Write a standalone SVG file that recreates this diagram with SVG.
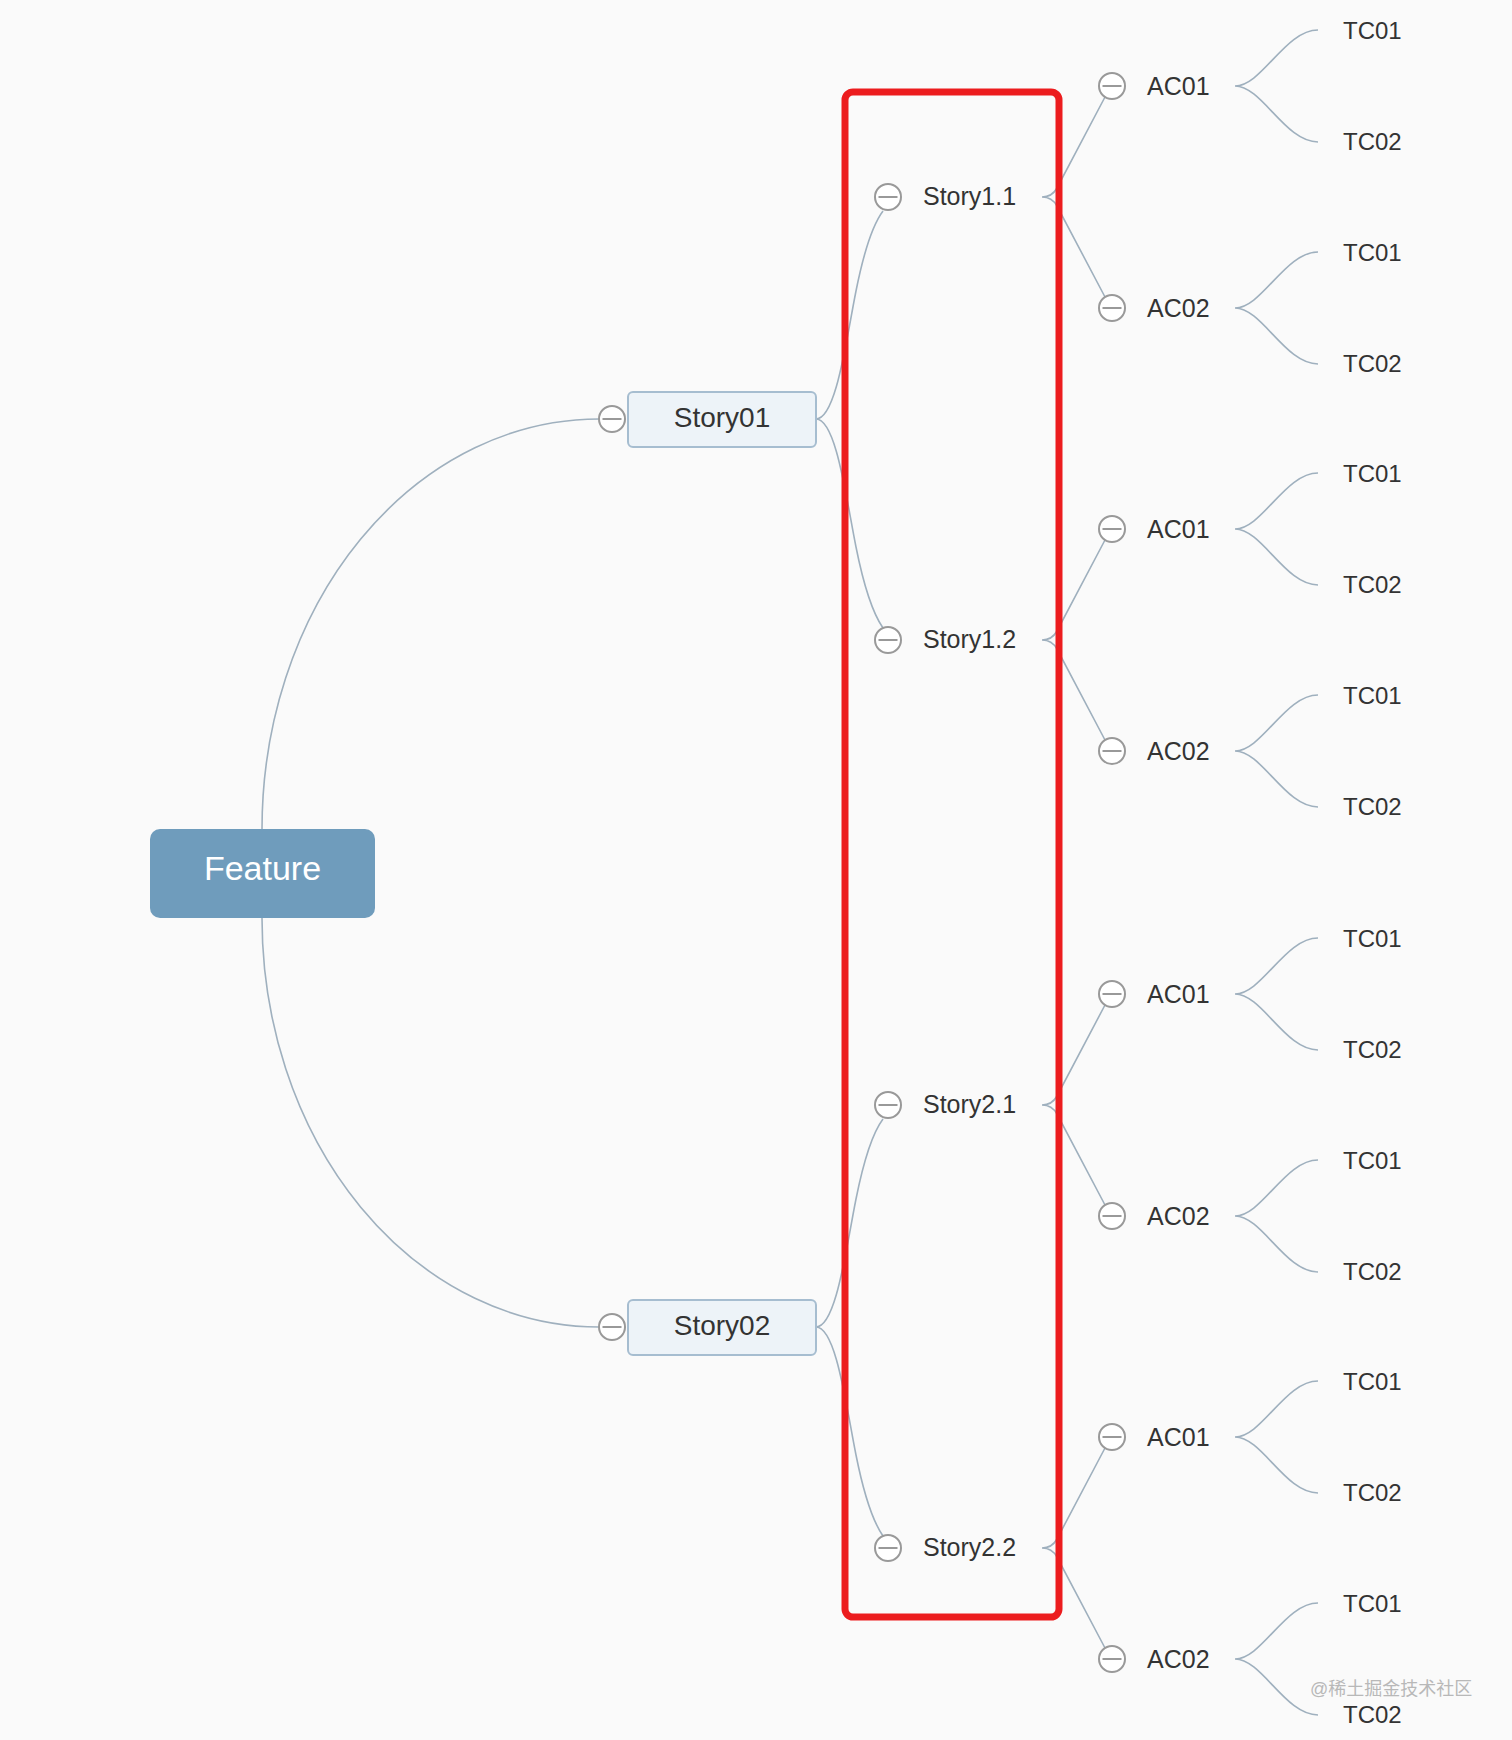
<svg xmlns="http://www.w3.org/2000/svg" width="1512" height="1740" viewBox="0 0 1512 1740">
<style>
text{font-family:"Liberation Sans",Arial,sans-serif;fill:#333;dominant-baseline:central}
.c{fill:none;stroke:#9fb0be;stroke-width:1.6}
.t{font-size:25px}
.tc{font-size:24px}
.s{font-size:28px;text-anchor:middle}
.box{fill:#edf3f8;stroke:#a6bdd0;stroke-width:2}
.tog circle{fill:#fff;stroke:#999;stroke-width:2}
.tog line{stroke:#999;stroke-width:2}
</style>
<defs>
<g id="tog" class="tog"><circle r="13"/><line x1="-9.5" y1="0" x2="9.5" y2="0"/></g>
</defs>
<rect width="1512" height="1740" fill="#fafafa"/>

<g id="connectors">
<path class="c" d="M262 829 A337 410 0 0 1 599 419"/>
<path class="c" d="M262 918 A337 409 0 0 0 599 1327"/>
<path class="c" d="M816 419 C836 419 846 341 856 291 C864 251 874 223 883 211"/>
<path class="c" d="M816 419 C836 419 846 497 856 547 C864 587 874 615 883 628"/>
<path class="c" d="M816 1327 C836 1327 846 1249 856 1199 C864 1159 874 1131 883 1119"/>
<path class="c" d="M816 1327 C836 1327 846 1405 856 1455 C864 1495 874 1523 883 1536"/>
<path class="c" d="M1042 197 Q1052 197 1057 188 L1105 97 M1042 197 Q1052 197 1057 206 L1105 297"/>
<path class="c" d="M1042 640 Q1052 640 1057 631 L1105 540 M1042 640 Q1052 640 1057 649 L1105 740"/>
<path class="c" d="M1042 1105 Q1052 1105 1057 1096 L1105 1005 M1042 1105 Q1052 1105 1057 1114 L1105 1205"/>
<path class="c" d="M1042 1548 Q1052 1548 1057 1539 L1105 1448 M1042 1548 Q1052 1548 1057 1557 L1105 1648"/>
<path class="c" d="M1235 86 C1262 86 1285 30 1318 30 M1235 86 C1262 86 1285 142 1318 142"/>
<path class="c" d="M1235 308 C1262 308 1285 252 1318 252 M1235 308 C1262 308 1285 364 1318 364"/>
<path class="c" d="M1235 529 C1262 529 1285 473 1318 473 M1235 529 C1262 529 1285 585 1318 585"/>
<path class="c" d="M1235 751 C1262 751 1285 695 1318 695 M1235 751 C1262 751 1285 807 1318 807"/>
<path class="c" d="M1235 994 C1262 994 1285 938 1318 938 M1235 994 C1262 994 1285 1050 1318 1050"/>
<path class="c" d="M1235 1216 C1262 1216 1285 1160 1318 1160 M1235 1216 C1262 1216 1285 1272 1318 1272"/>
<path class="c" d="M1235 1437 C1262 1437 1285 1381 1318 1381 M1235 1437 C1262 1437 1285 1493 1318 1493"/>
<path class="c" d="M1235 1659 C1262 1659 1285 1603 1318 1603 M1235 1659 C1262 1659 1285 1715 1318 1715"/>
</g>

<g id="feature">
<rect x="150" y="829" width="225" height="89" rx="10" fill="#6f9cbc"/>
<text x="262.5" y="868" style="fill:#fff;font-size:34px;text-anchor:middle">Feature</text>
</g>

<g id="story01">
<rect class="box" x="628" y="392" width="188" height="55" rx="5"/>
<use href="#tog" x="612" y="419"/>
<text class="s" x="722" y="417">Story01</text>
</g>
<g id="story02">
<rect class="box" x="628" y="1300" width="188" height="55" rx="5"/>
<use href="#tog" x="612" y="1327"/>
<text class="s" x="722" y="1325">Story02</text>
</g>

<g id="story1-1"><use href="#tog" x="888" y="197"/><text class="t" x="923" y="196">Story1.1</text></g>
<g id="story1-2"><use href="#tog" x="888" y="640"/><text class="t" x="923" y="639">Story1.2</text></g>
<g id="story2-1"><use href="#tog" x="888" y="1105"/><text class="t" x="923" y="1104">Story2.1</text></g>
<g id="story2-2"><use href="#tog" x="888" y="1548"/><text class="t" x="923" y="1547">Story2.2</text></g>

<g id="ac-1-1-1"><use href="#tog" x="1112" y="86"/><text class="t" x="1147" y="86">AC01</text></g>
<g id="ac-1-1-2"><use href="#tog" x="1112" y="308"/><text class="t" x="1147" y="308">AC02</text></g>
<g id="ac-1-2-1"><use href="#tog" x="1112" y="529"/><text class="t" x="1147" y="529">AC01</text></g>
<g id="ac-1-2-2"><use href="#tog" x="1112" y="751"/><text class="t" x="1147" y="751">AC02</text></g>
<g id="ac-2-1-1"><use href="#tog" x="1112" y="994"/><text class="t" x="1147" y="994">AC01</text></g>
<g id="ac-2-1-2"><use href="#tog" x="1112" y="1216"/><text class="t" x="1147" y="1216">AC02</text></g>
<g id="ac-2-2-1"><use href="#tog" x="1112" y="1437"/><text class="t" x="1147" y="1437">AC01</text></g>
<g id="ac-2-2-2"><use href="#tog" x="1112" y="1659"/><text class="t" x="1147" y="1659">AC02</text></g>

<g id="tcs">
<text class="tc" x="1343" y="30">TC01</text><text class="tc" x="1343" y="141">TC02</text>
<text class="tc" x="1343" y="252">TC01</text><text class="tc" x="1343" y="363">TC02</text>
<text class="tc" x="1343" y="473">TC01</text><text class="tc" x="1343" y="584">TC02</text>
<text class="tc" x="1343" y="695">TC01</text><text class="tc" x="1343" y="806">TC02</text>
<text class="tc" x="1343" y="938">TC01</text><text class="tc" x="1343" y="1049">TC02</text>
<text class="tc" x="1343" y="1160">TC01</text><text class="tc" x="1343" y="1271">TC02</text>
<text class="tc" x="1343" y="1381">TC01</text><text class="tc" x="1343" y="1492">TC02</text>
<text class="tc" x="1343" y="1603">TC01</text><text class="tc" x="1343" y="1714">TC02</text>
</g>

<rect id="highlight" x="845" y="92" width="214" height="1525" rx="8" fill="none" stroke="#ec1c1e" stroke-width="7"/>

<text x="1310" y="1689" style="font-family:'Liberation Sans','Noto Sans CJK SC',sans-serif;font-size:18px;fill:#b8b8b8">@稀土掘金技术社区</text>
</svg>
